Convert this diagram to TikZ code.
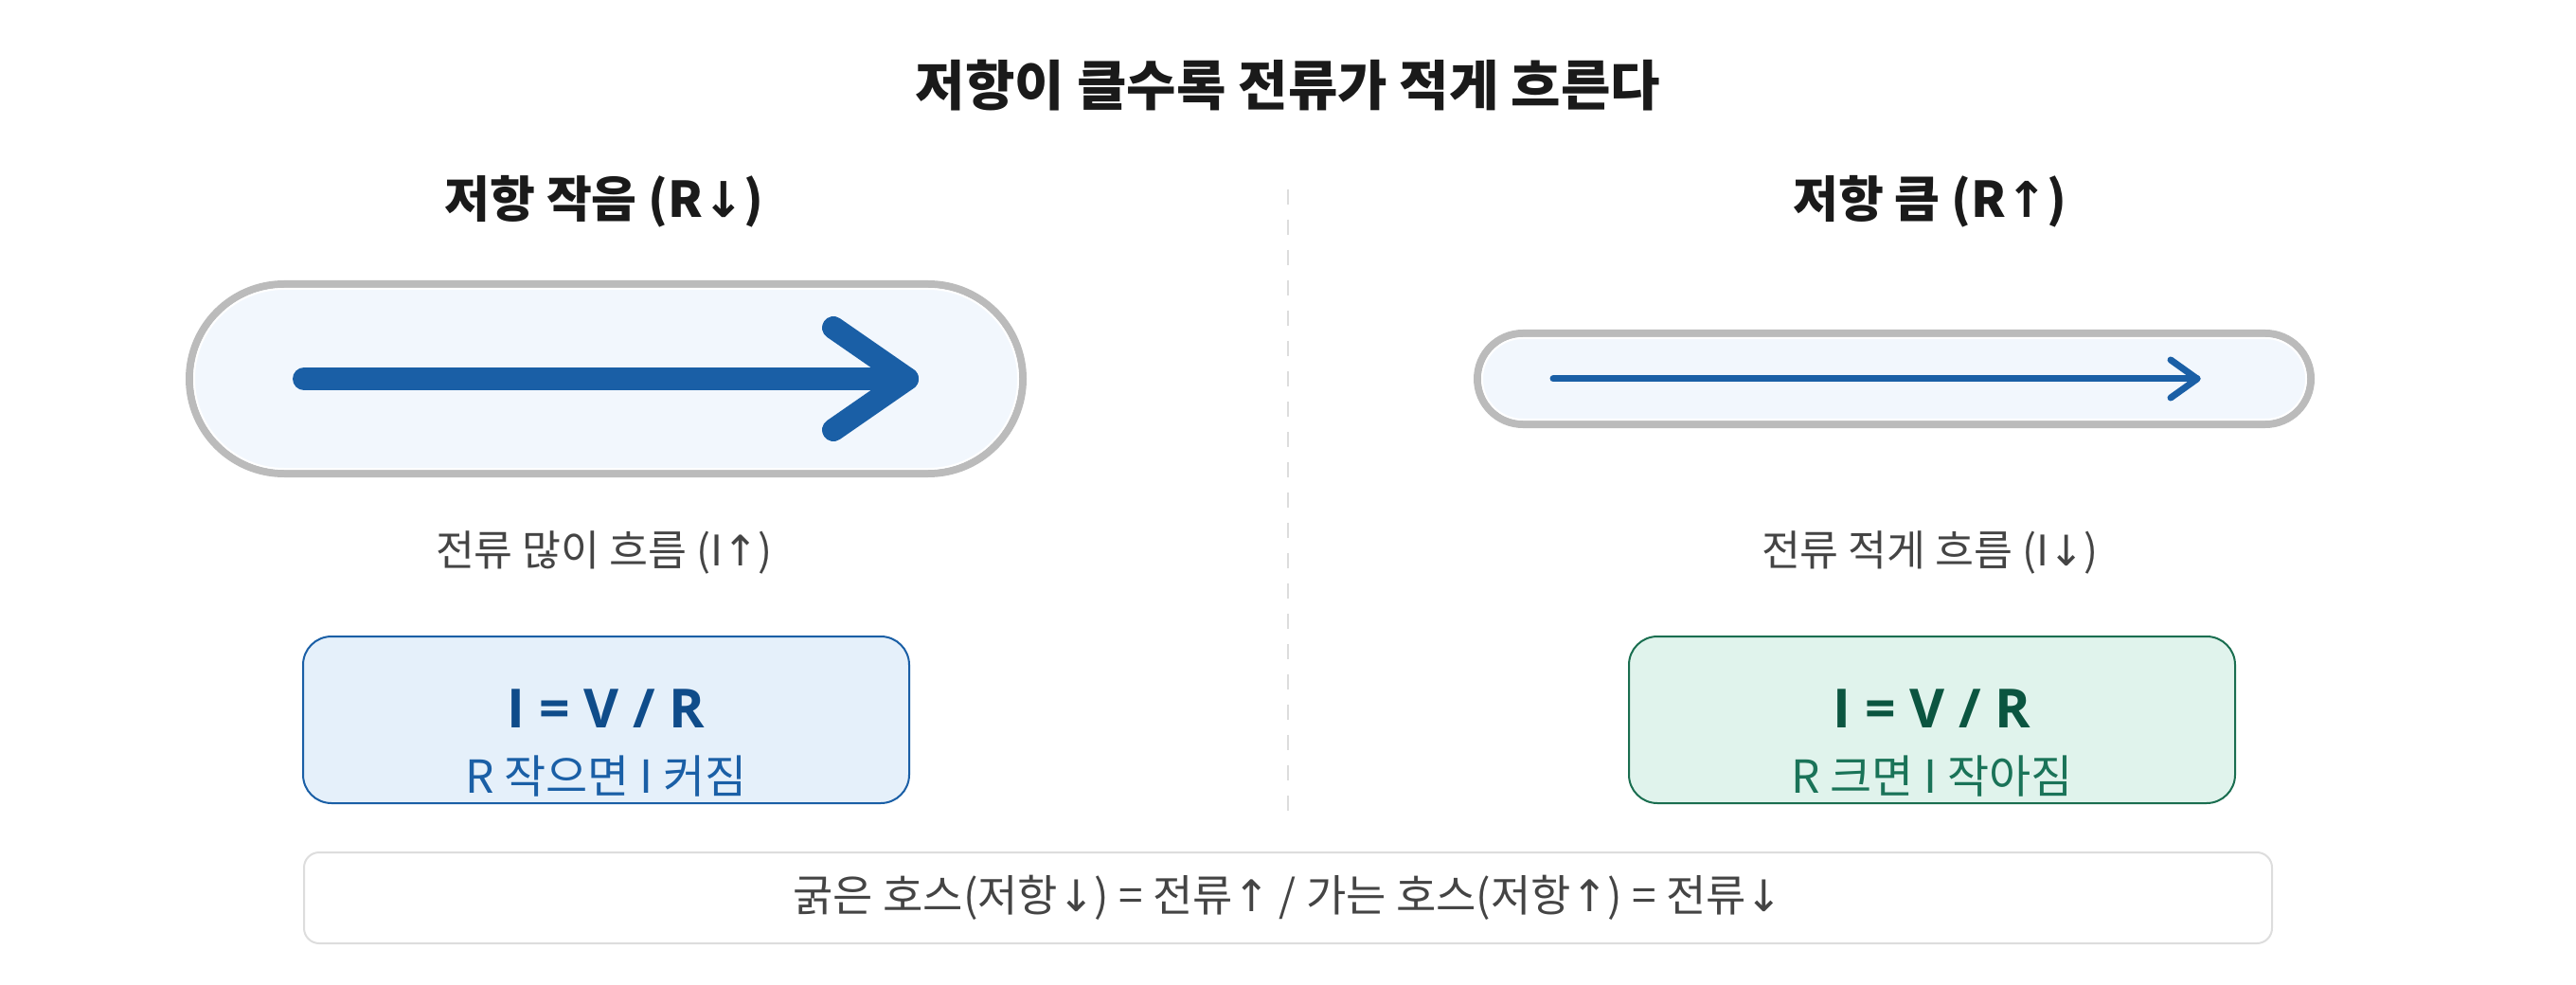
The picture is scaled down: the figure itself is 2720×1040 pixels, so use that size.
\documentclass[tikz,border=0pt]{standalone}
\usepackage{fontspec}
\setmainfont{Noto Sans CJK KR}
\newfontfamily\latinfont{Open Sans}
\newfontfamily\arrowfont{DejaVu Sans}
\newcommand\uparr{{\arrowfont ↑}}
\newcommand\dnarr{{\arrowfont ↓}}
\usetikzlibrary{shapes.misc}

\definecolor{pipeline}{HTML}{BBBBBB}
\definecolor{pipefill}{HTML}{F2F7FD}
\definecolor{flowblue}{HTML}{1A5FA6}
\definecolor{inkdark}{HTML}{1A1A1A}
\definecolor{inkgray}{HTML}{444444}
\definecolor{blueline}{HTML}{1A5FA6}
\definecolor{bluefill}{HTML}{E5F0FA}
\definecolor{bluedark}{HTML}{0F4C8A}
\definecolor{greenline}{HTML}{1A6E50}
\definecolor{greenfill}{HTML}{E0F3EC}
\definecolor{greendark}{HTML}{0B5540}
\definecolor{greentext}{HTML}{1A7358}
\definecolor{softgray}{HTML}{DDDDDD}

\begin{document}
\begin{tikzpicture}[x=1pt, y=-1pt,
  pipe/.style={rounded rectangle, draw=pipeline, fill=pipefill, line width=8pt, inner sep=0pt, minimum width=880pt},
  pipeinner/.style={rounded rectangle, draw=white, line width=2pt, inner sep=0pt, minimum width=870pt},
  flow/.style={draw=flowblue, line cap=round, line join=round},
  formbox/.style={rectangle, rounded corners=30pt, line width=2pt, minimum width=640pt, minimum height=176pt, inner sep=0pt},
  formula/.style={font=\latinfont\bfseries\fontsize{57}{64}\selectfont},
  formsub/.style={font=\fontsize{48}{56}\selectfont},
  heading/.style={text=inkdark, font=\bfseries\fontsize{52}{60}\selectfont},
  flowlabel/.style={text=inkgray, font=\fontsize{44.5}{52}\selectfont}]
\useasboundingbox (0,0) rectangle (2720,1040);

\node[text=inkdark, font=\bfseries\fontsize{57}{66}\selectfont] (title) at (1360,90) {저항이 클수록 전류가 적게 흐른다};

% divider
\draw[softgray, line width=2.5pt, dash pattern=on 16pt off 16pt] (1360,200) -- (1360,870);

%% left: thick hose
\node[heading] (lhead) at (638,213) {저항 작음 (R\dnarr)};
\node[pipe, minimum height=200pt] (lpipe) at (640,400) {};
\node[pipeinner, minimum height=190pt] at (lpipe) {};
\coordinate (ltail) at (321,400);
\coordinate (lhead tip) at (958,400);
\draw[flow, line width=24pt] (ltail) -- (lhead tip);
\draw[flow, line width=24pt] ([shift={(-78,-54)}]lhead tip) -- (lhead tip) -- ([shift={(-78,54)}]lhead tip);
\node[flowlabel] (llabel) at (638,583) {전류 많이 흐름 (I\uparr)};

\node[formbox, draw=blueline, fill=bluefill] (lbox) at (640,760) {};
\node[formula, text=bluedark] (lform) at (640,748) {I = V / R};
\node[formsub, text=blueline] (lsub) at (640,820) {R 작으면 I 커짐};

%% right: thin hose
\node[heading] (rhead) at (2038,213) {저항 큼 (R\uparr)};
\node[pipe, minimum height=96pt] (rpipe) at (2000,400) {};
\node[pipeinner, minimum height=86pt] at (rpipe) {};
\coordinate (rtail) at (1640,400);
\coordinate (rhead tip) at (2320,400);
\draw[flow, line width=7pt] (rtail) -- (rhead tip);
\draw[flow, line width=7pt] ([shift={(-28,-20)}]rhead tip) -- (rhead tip) -- ([shift={(-28,20)}]rhead tip);
\node[flowlabel] (rlabel) at (2038,583) {전류 적게 흐름 (I\dnarr)};

\node[formbox, draw=greenline, fill=greenfill] (rbox) at (2040,760) {};
\node[formula, text=greendark] (rform) at (2040,748) {I = V / R};
\node[formsub, text=greentext] (rsub) at (2040,820) {R 크면 I 작아짐};

% summary
\node[rectangle, rounded corners=16pt, draw=softgray, fill=white, line width=2pt,
  minimum width=2078pt, minimum height=96pt] (note) at (1360,948) {};
\node[text=inkgray, font=\fontsize{46}{54}\selectfont] (notetext) at (note) {굵은 호스(저항\dnarr) = 전류\uparr{} / 가는 호스(저항\uparr) = 전류\dnarr};
\end{tikzpicture}
\end{document}
